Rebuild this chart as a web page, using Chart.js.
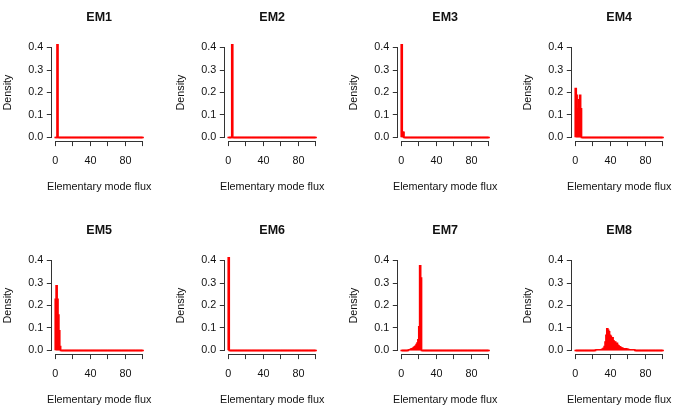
<!DOCTYPE html>
<html>
<head>
<meta charset="utf-8">
<script src="https://cdn.jsdelivr.net/npm/chart.js@4.4.1/dist/chart.umd.min.js"></script>
<style>
  html, body { margin: 0; padding: 0; background: #fff; }
  body { width: 685px; height: 415px; overflow: hidden; position: relative; }
  canvas { position: absolute; }
</style>
</head>
<body>
<script>
// density histograms, bins of width 1 on 0..100; only the non-zero bins are listed,
// binStart is the first listed bin of each panel
const panelTitles = ['EM1', 'EM2', 'EM3', 'EM4', 'EM5', 'EM6', 'EM7', 'EM8'];
const binStart = [2, 4, 0, 0, 0, 0, 8, 23];
const em1 = [1.0];
const em2 = [1.0];
const em3 = [0.95, 0.025, 0.025];
const em4 = [0.22, 0.19, 0.09, 0.13, 0.17, 0.19, 0.13];
const em5 = [0.23, 0.29, 0.23, 0.16, 0.09, 0.02];
const em6 = [1.0];
const em7 = [0.003, 0.005, 0.006, 0.008, 0.01, 0.012, 0.015, 0.018, 0.022, 0.028, 0.035, 0.05, 0.107, 0.378, 0.324];
const em8 = [0.002, 0.002, 0.003, 0.003, 0.004, 0.004, 0.005, 0.006, 0.008, 0.012, 0.02, 0.04, 0.07,
  0.098, 0.092, 0.085, 0.07, 0.065, 0.055, 0.058, 0.045, 0.038, 0.04, 0.031, 0.034, 0.025, 0.022,
  0.018, 0.016, 0.012, 0.013, 0.01, 0.01, 0.008, 0.01, 0.007, 0.007, 0.006, 0.005, 0.005, 0.004,
  0.004, 0.003, 0.002, 0.002];
const densities = [em1, em2, em3, em4, em5, em6, em7, em8];
const binCount = 100;

const xTicks = [0, 20, 40, 60, 80, 100];
const xTickLabels = ['0', '', '40', '', '80', ''];
const yTicks = [0, 0.1, 0.2, 0.3, 0.4];
const yTickLabels = ['0.0', '0.1', '0.2', '0.3', '0.4'];
const xLabel = 'Elementary mode flux';
const yLabel = 'Density';

const FONT = '"Liberation Sans", Arial, Helvetica, sans-serif';
const FS = 10.8;
const TEXT = '#111';
const AXIS = '#333';

function binData(start, vals) {
  var out = [];
  for (var i = 0; i < binCount; i++) {
    var k = i - start;
    out.push({ x: i + 0.5, y: (k >= 0 && k < vals.length) ? vals[k] : 0 });
  }
  return out;
}

// R style axes: the line only covers the tick range; x label may be wider than the plot
const axisLines = {
  id: 'axisLines',
  afterDraw: function(chart) {
    var ctx = chart.ctx, xs = chart.scales.x, ys = chart.scales.y, a = chart.chartArea;
    var left = Math.round(a.left - 0.5) + 0.5;
    var bottom = Math.round(a.bottom - 0.5) + 0.5;
    ctx.save();
    ctx.strokeStyle = AXIS;
    ctx.lineWidth = 1;
    ctx.beginPath();
    ctx.moveTo(left, ys.getPixelForValue(yTicks[0]));
    ctx.lineTo(left, ys.getPixelForValue(yTicks[yTicks.length - 1]));
    ctx.moveTo(xs.getPixelForValue(xTicks[0]), bottom);
    ctx.lineTo(xs.getPixelForValue(xTicks[xTicks.length - 1]), bottom);
    ctx.stroke();
    ctx.fillStyle = TEXT;
    ctx.font = FS + 'px ' + FONT;
    ctx.textAlign = 'center';
    ctx.textBaseline = 'middle';
    ctx.fillText(xLabel, (a.left + a.right) / 2, xs.bottom - 26);
    ctx.restore();
  }
};

panelTitles.forEach(function(t, p) {
  var col = p % 4, row = Math.floor(p / 4);
  var cv = document.createElement('canvas');
  cv.width = 173;
  cv.height = 213;
  cv.style.left = Math.round(col * 173.2) + 'px';
  cv.style.top = (row * 213) + 'px';
  document.body.appendChild(cv);

  new Chart(cv, {
    type: 'bar',
    data: {
      datasets: [{
        data: binData(binStart[p], densities[p]),
        backgroundColor: '#ff0000',
        borderWidth: 0,
        barThickness: 2,
        minBarLength: 1,
        clip: 0
      }]
    },
    options: {
      responsive: false,
      animation: false,
      events: [],
      layout: { padding: { left: 0, right: 26.5, top: 0, bottom: 0 } },
      plugins: {
        legend: { display: false },
        tooltip: { enabled: false },
        title: {
          display: true,
          text: t,
          fullSize: false,
          color: TEXT,
          font: { family: FONT, size: 12.5, weight: 'bold', lineHeight: 1.2 },
          padding: { top: 10.5, bottom: 18.4 }
        }
      },
      scales: {
        x: {
          type: 'linear',
          min: -4,
          max: 104,
          offset: false,
          afterBuildTicks: function(s) { s.ticks = xTicks.map(function(v) { return { value: v }; }); },
          afterFit: function(s) { s.height = 71.9; },
          grid: { drawOnChartArea: false, drawTicks: true, tickLength: 5, color: AXIS, offset: false },
          border: { display: false },
          ticks: {
            autoSkip: false,
            maxRotation: 0,
            padding: 8.4,
            color: TEXT,
            font: { family: FONT, size: FS, lineHeight: 1.2 },
            callback: function(v, i) { return xTickLabels[i]; }
          },
          title: { display: false }
        },
        y: {
          type: 'linear',
          min: -0.016,
          max: 0.416,
          afterBuildTicks: function(s) { s.ticks = yTicks.map(function(v) { return { value: v }; }); },
          afterFit: function(s) { s.width = 51.8; },
          grid: { drawOnChartArea: false, drawTicks: true, tickLength: 5, color: AXIS },
          border: { display: false },
          ticks: {
            padding: 3.5,
            color: TEXT,
            font: { family: FONT, size: FS, lineHeight: 1.2 },
            callback: function(v, i) { return yTickLabels[i]; }
          },
          title: {
            display: true,
            text: yLabel,
            color: TEXT,
            font: { family: FONT, size: FS, lineHeight: 1.2 },
            padding: { top: 2.0, bottom: 0 }
          }
        }
      }
    },
    plugins: [axisLines]
  });
});
</script>
</body>
</html>
